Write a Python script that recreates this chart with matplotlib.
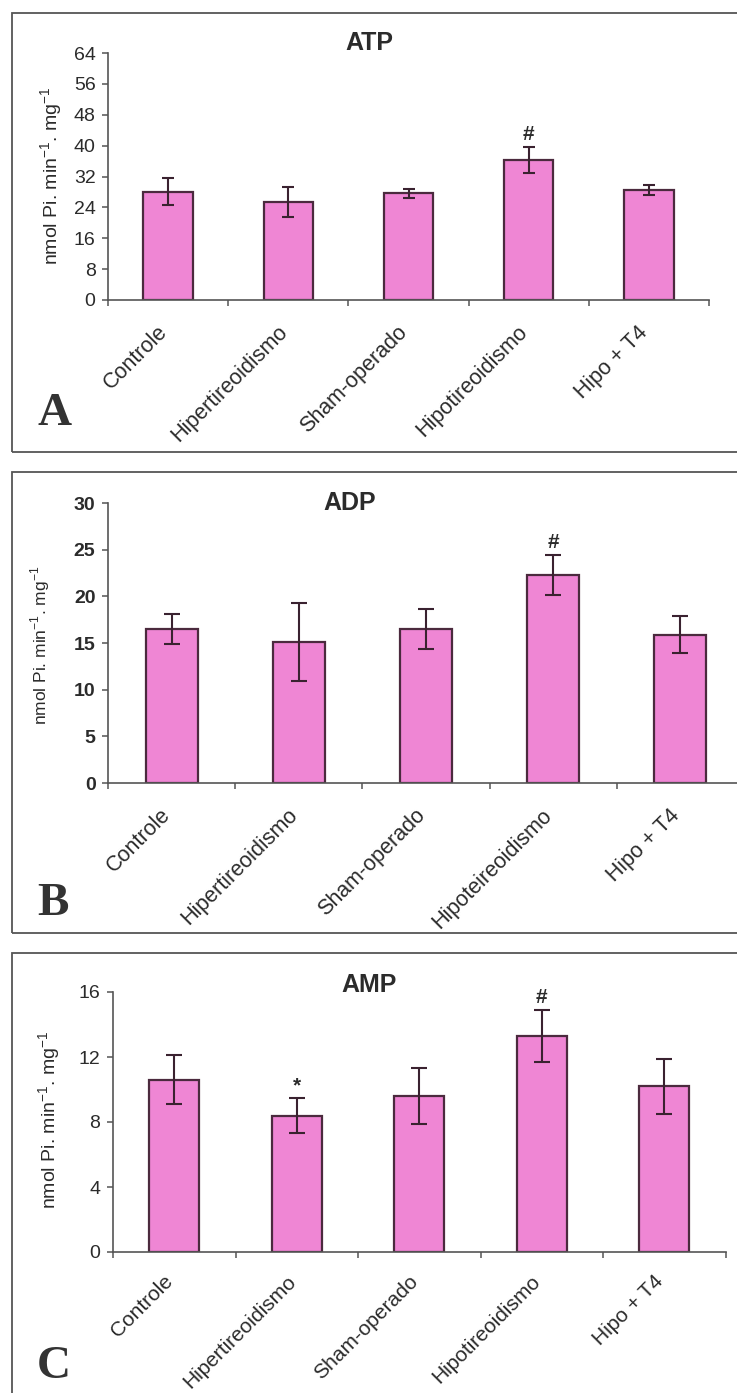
import matplotlib.pyplot as plt
from matplotlib.patches import Rectangle
from matplotlib.transforms import ScaledTranslation

W, H = 737, 1393

groups = ['Controle', 'Hipertireoidismo', 'Sham-operado', 'Hipotireoidismo', 'Hipo + T4']
groups_adp = ['Controle', 'Hipertireoidismo', 'Sham-operado', 'Hipoteireoidismo', 'Hipo + T4']

atp_mean = [28.1, 25.4, 27.6, 36.3, 28.5]
atp_err = [3.5, 4.0, 1.1, 3.4, 1.3]
atp_marks = ['', '', '', '#', '']

adp_mean = [16.5, 15.1, 16.5, 22.3, 15.9]
adp_err = [1.65, 4.2, 2.1, 2.15, 2.0]
adp_marks = ['', '', '', '#', '']

amp_mean = [10.6, 8.4, 9.6, 13.3, 10.2]
amp_err = [1.5, 1.05, 1.7, 1.6, 1.7]
amp_marks = ['', '*', '', '#', '']

atp_ticks = [0, 8, 16, 24, 32, 40, 48, 56, 64]
adp_ticks = [0, 5, 10, 15, 20, 25, 30]
amp_ticks = [0, 4, 8, 12, 16]

plt.rcParams['font.family'] = ['Liberation Sans', 'DejaVu Sans']
bar_color = '#EF86D4'
edge_color = '#4B2A3E'
line_color = '#555555'
text_color = '#2b2b2b'

fig = plt.figure(figsize=(W / 100, H / 100), dpi=100)


def px_axes(left, top, right, bottom):
    return fig.add_axes([left / W, 1 - bottom / H, (right - left) / W, (bottom - top) / H])


def panel_box(top, bottom):
    fig.patches.append(Rectangle((12 / W, 1 - bottom / H), (W + 20 - 12) / W, (bottom - top) / H,
                                 fill=False, ec=line_color, lw=1.3, transform=fig.transFigure))


def draw_panel(ax, names, means, errs, marks, yticks, tick_weight, cap, lab_size, lab_pad):
    x = list(range(len(names)))
    ax.bar(x, means, width=0.41, color=bar_color, edgecolor=edge_color, linewidth=1.6, zorder=2)
    ax.errorbar(x, means, yerr=errs, fmt='none', ecolor='#3a2230', elinewidth=1.5,
                capsize=cap, capthick=1.5, zorder=3)
    for xi, m, e, mk in zip(x, means, errs, marks):
        if mk:
            ax.annotate(mk, (xi, m + e), xytext=(0, 2), textcoords='offset points',
                        ha='center', va='bottom', fontsize=15, fontweight='bold', color=text_color)
    ax.set_xlim(-0.5, len(names) - 0.5)
    ax.set_ylim(yticks[0], yticks[-1])
    ax.set_yticks(yticks)
    ax.set_yticklabels([str(t) for t in yticks], fontsize=14, fontweight=tick_weight, color=text_color)
    ax.set_xticks(x)
    ax.set_xticklabels(names, rotation=45, ha='right', va='center', rotation_mode='anchor',
                       fontsize=lab_size, color=text_color)
    ax.set_xticks([i - 0.5 for i in range(len(names) + 1)], minor=True)
    ax.tick_params(axis='x', which='major', length=0, pad=lab_pad)
    ax.tick_params(axis='x', which='minor', length=4.5, width=1.1, color=line_color, direction='out')
    ax.tick_params(axis='y', length=4, width=1.1, color=line_color, direction='out', pad=5)
    shift = ScaledTranslation(-4 / 100, 0, fig.dpi_scale_trans)
    for lbl in ax.get_xticklabels():
        lbl.set_transform(lbl.get_transform() + shift)
    for s in ['top', 'right']:
        ax.spines[s].set_visible(False)
    for s in ['left', 'bottom']:
        ax.spines[s].set_color(line_color)
        ax.spines[s].set_linewidth(1.2)


panel_box(13, 452)
panel_box(472, 933)
panel_box(953, 1420)

ax1 = px_axes(108, 53, 709, 300)
draw_panel(ax1, groups, atp_mean, atp_err, atp_marks, atp_ticks, 'normal', 4.3, 15.5, 21)

ax2 = px_axes(108, 503, 744, 783)
draw_panel(ax2, groups_adp, adp_mean, adp_err, adp_marks, adp_ticks, 'bold', 5.8, 15.5, 21)

ax3 = px_axes(113, 992, 725.5, 1252)
draw_panel(ax3, groups, amp_mean, amp_err, amp_marks, amp_ticks, 'normal', 5.8, 15, 19)

# titles sit inside the plot area
fig.text(369 / W, 1 - 43 / H, 'ATP', ha='center', va='center', fontsize=18, fontweight='bold', color=text_color)
fig.text(350 / W, 1 - 503 / H, 'ADP', ha='center', va='center', fontsize=18, fontweight='bold', color=text_color)
fig.text(369 / W, 1 - 985 / H, 'AMP', ha='center', va='center', fontsize=18, fontweight='bold', color=text_color)

ylab = 'nmol Pi. min$^{\\mathregular{-1}}$. mg$^{\\mathregular{-1}}$'
fig.text(52 / W, 1 - 176 / H, ylab, rotation=90, ha='center', va='center', fontsize=14, color=text_color)
fig.text(40 / W, 1 - 645 / H, ylab, rotation=90, ha='center', va='center', fontsize=12.5, color=text_color)
fig.text(50 / W, 1 - 1120 / H, ylab, rotation=90, ha='center', va='center', fontsize=14, color=text_color)

for letter, ybase in [('A', 425), ('B', 915), ('C', 1378)]:
    fig.text(37 / W, 1 - ybase / H, letter, ha='left', va='baseline', fontsize=34,
             fontweight='bold', family='Liberation Serif', color='#333333')

fig.savefig('out.png', dpi=100)
